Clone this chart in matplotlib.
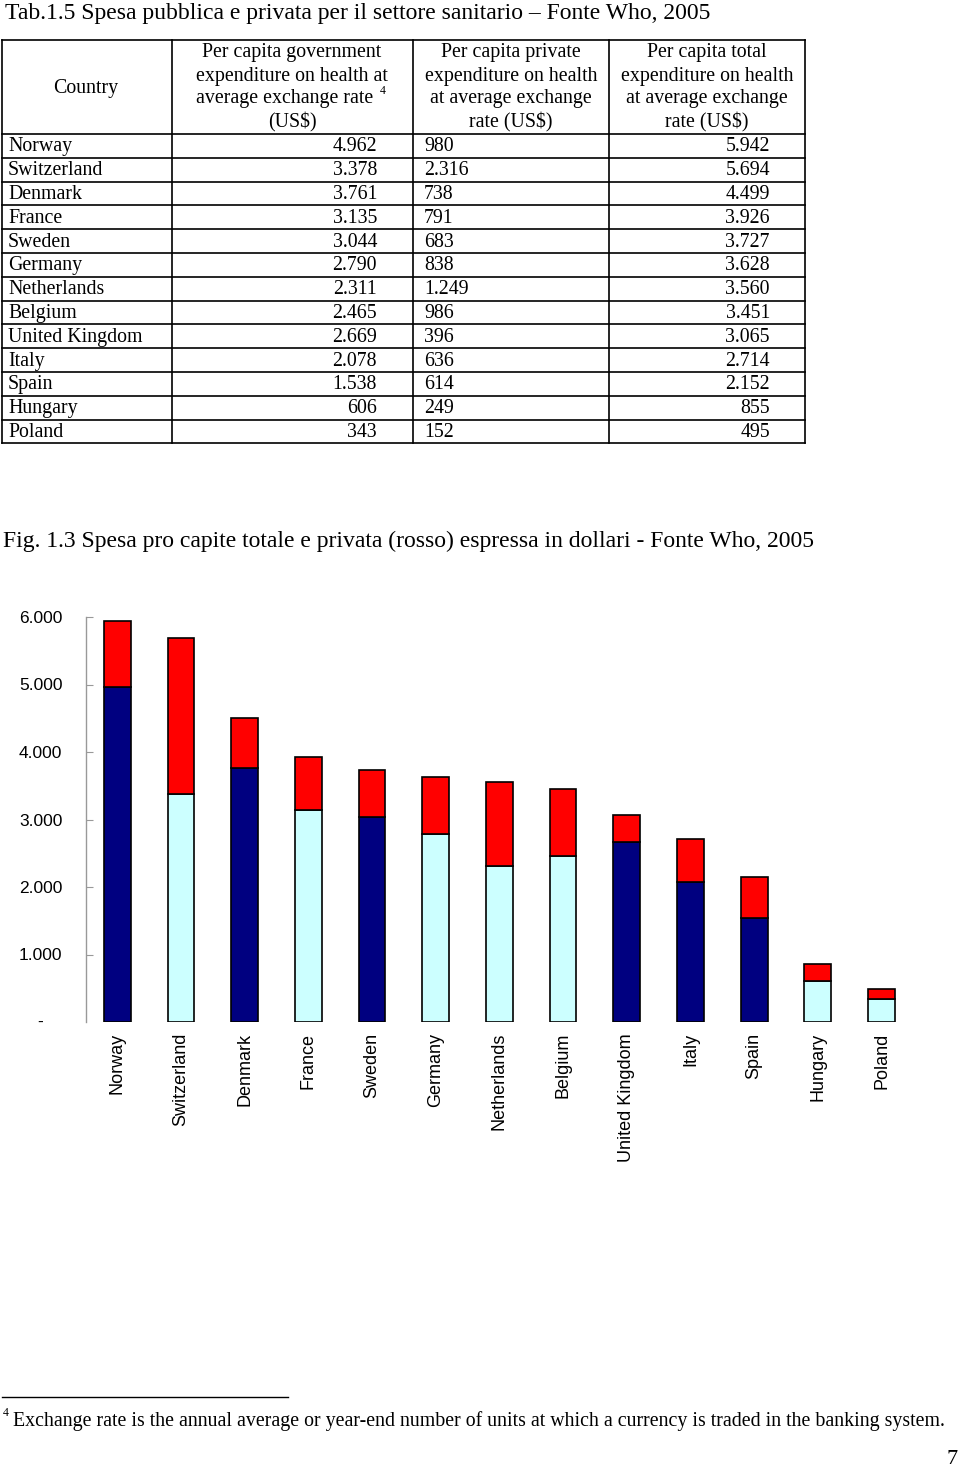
#!/usr/bin/env python3
import matplotlib
matplotlib.use('Agg')
import matplotlib.pyplot as plt
from matplotlib.lines import Line2D

countries = ['Norway', 'Switzerland', 'Denmark', 'France', 'Sweden', 'Germany',
             'Netherlands', 'Belgium', 'United Kingdom', 'Italy', 'Spain',
             'Hungary', 'Poland']
gov   = [4962, 3378, 3761, 3135, 3044, 2790, 2311, 2465, 2669, 2078, 1538, 606, 343]
priv  = [980, 2316, 738, 791, 683, 838, 1249, 986, 396, 636, 614, 249, 152]
total = [5942, 5694, 4499, 3926, 3727, 3628, 3560, 3451, 3065, 2714, 2152, 855, 495]
# base colour of each bar as in the original chart (dark / light)
dark = [1, 0, 1, 0, 1, 0, 0, 0, 1, 1, 1, 0, 0]

yticks = [1000, 2000, 3000, 4000, 5000, 6000]

W, H = 960, 1470
SERIF = 'Liberation Serif'
SANS = 'Liberation Sans'


def fmt(v):
    return '{:,}'.format(v).replace(',', '.')


def X(x):
    return x / W


def Y(y):
    return 1 - y / H


fig = plt.figure(figsize=(9.6, 14.7), dpi=100)


def hline(x0, x1, y, lw=1.2, c='k'):
    fig.add_artist(Line2D([X(x0), X(x1)], [Y(y), Y(y)], color=c, lw=lw,
                          transform=fig.transFigure))


def vline(x, y0, y1, lw=1.2, c='k'):
    fig.add_artist(Line2D([X(x), X(x)], [Y(y0), Y(y1)], color=c, lw=lw,
                          transform=fig.transFigure))


def txt(x, y, s, size=14, ha='left', va='center', family=SERIF):
    fig.text(X(x), Y(y), s, fontsize=size, ha=ha, va=va, family=family)


# ---- table ----
txt(5, 14, 'Tab.1.5 Spesa pubblica e privata per il settore sanitario \u2013 Fonte Who, 2005', size=17)

cols = [2, 172, 413, 609, 805]
top, head_bot, row_h = 40, 134, 23.8
nrows = len(countries)
bot = head_bot + nrows * row_h

hline(cols[0], cols[-1], top)
hline(cols[0], cols[-1], head_bot)
for i in range(1, nrows + 1):
    hline(cols[0], cols[-1], head_bot + i * row_h)
for c in cols:
    vline(c, top, bot)

FS = 14.3
txt(86, 88, 'Country', size=FS, ha='center')
hdr1 = ['Per capita government', 'expenditure on health at',
        'average exchange rate', r'(US\$)']
hdr2 = ['Per capita private', 'expenditure on health',
        'at average exchange', r'rate (US\$)']
hdr3 = ['Per capita total', 'expenditure on health',
        'at average exchange', r'rate (US\$)']
for cx, lines in [(292, hdr1), (511, hdr2), (707, hdr3)]:
    for k, s in enumerate(lines):
        shift = -7 if s == 'average exchange rate' else 0
        txt(cx + shift, 53 + k * 23, s, size=FS, ha='center')
txt(380, 91, '4', size=8.5)

for i, name in enumerate(countries):
    yc = head_bot + (i + 0.5) * row_h + 1
    txt(8, yc, name, size=FS)
    txt(377, yc, fmt(gov[i]), size=FS, ha='right')
    txt(424, yc, fmt(priv[i]), size=FS)
    txt(770, yc, fmt(total[i]), size=FS, ha='right')

# ---- figure caption ----
txt(3, 541, 'Fig. 1.3 Spesa pro capite totale e privata (rosso) espressa in dollari - Fonte Who, 2005', size=17)

# ---- chart ----
ax_l, ax_r, ax_t, ax_b = 86, 914, 617, 1022
ax = fig.add_axes([X(ax_l), Y(ax_b), X(ax_r - ax_l), (ax_b - ax_t) / H])
xs = list(range(len(countries)))
base_cols = ['#000080' if d else '#CCFFFF' for d in dark]
ax.bar(xs, gov, width=0.42, color=base_cols, edgecolor='k', linewidth=1.2)
ax.bar(xs, priv, width=0.42, bottom=gov, color='#FF0000', edgecolor='k', linewidth=1.2)

ax.set_xlim(-0.49, len(countries) - 0.49)
ax.set_ylim(0, 6000)
ax.set_yticks(yticks)
ax.set_yticklabels([fmt(v) for v in yticks], family=SANS, fontsize=12.5)
ax.tick_params(axis='y', direction='in', length=5, color='#999999', pad=17)
ax.set_xticks(xs)
ax.set_xticklabels(countries, rotation=90, family=SANS, fontsize=13, va='top')
ax.tick_params(axis='x', length=0, pad=8)
for s in ['top', 'right', 'bottom']:
    ax.spines[s].set_visible(False)
ax.spines['left'].set_color('#999999')
ax.spines['left'].set_linewidth(1.0)
ax.text(-46 / (ax_r - ax_l), 0, '-', transform=ax.get_yaxis_transform(),
        ha='center', va='center', family=SANS, fontsize=12.5)

# ---- footnote ----
hline(2, 288, 1397, lw=1.0)
txt(3, 1419, '4', size=8.5, va='bottom')
txt(13, 1421, 'Exchange rate is the annual average or year-end number of units at which a currency is traded in the banking system.', size=14.3)
txt(958, 1460, '7', size=16, ha='right')

fig.savefig('out.png', dpi=100)
